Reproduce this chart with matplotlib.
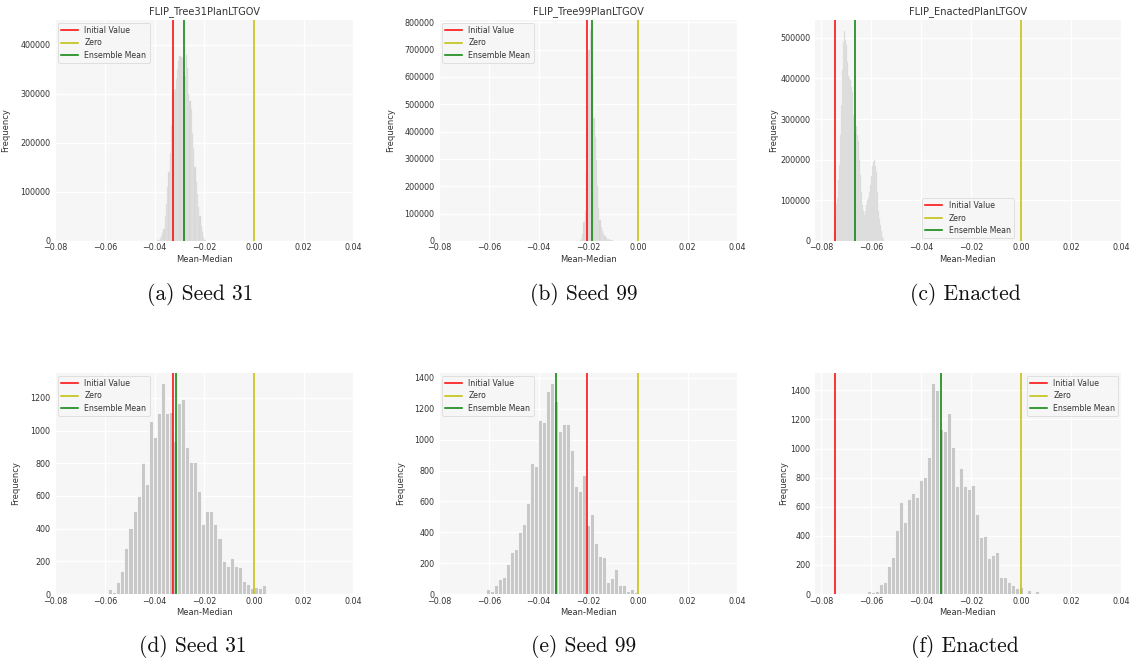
import numpy as np
import matplotlib
matplotlib.use("Agg")
import matplotlib.pyplot as plt

plt.rcParams['font.family'] = ['DejaVu Sans']

# ---- labels -------------------------------------------------------------
titles = ["FLIP_Tree31PlanLTGOV", "FLIP_Tree99PlanLTGOV", "FLIP_EnactedPlanLTGOV"]
captions = ["(a) Seed 31", "(b) Seed 99", "(c) Enacted",
            "(d) Seed 31", "(e) Seed 99", "(f) Enacted"]
xtick_values = [-0.08, -0.06, -0.04, -0.02, 0.00, 0.02, 0.04]
legend_labels = ["Initial Value", "Zero", "Ensemble Mean"]

# ---- histogram data (bin start, bin width, counts) ----------------------
# long chains (top row)
seed31_long_start, seed31_long_width = -0.0390, 0.0005
seed31_long_counts = [1500, 3000, 6000, 10000, 16000, 25000, 50000, 75000, 110000,
                      140000, 180000, 237000, 300000, 309000, 310000, 330000, 350000,
                      367000, 377000, 375000, 373000, 345000, 336000, 379000, 353000,
                      300000, 285000, 270000, 220000, 190000, 150000, 120000, 95000,
                      70000, 50000, 30000, 18000, 8000, 2000]

seed99_long_start, seed99_long_width = -0.0235, 0.0005
seed99_long_counts = [3000, 8000, 25000, 70000, 110000, 250000, 450000, 700000, 770000,
                      720000, 610000, 450000, 380000, 295000, 200000, 120000, 75000,
                      50000, 35000, 25000, 18000, 12000, 9000, 6000, 4000, 3000, 2000,
                      1000]

enacted_long_start, enacted_long_width = -0.0747, 0.0004
enacted_long_counts = [20000, 69000, 90000, 106000, 150000, 188000, 260000, 335000,
                       420000, 490000, 518000, 495000, 483000, 440000, 405000, 400000,
                       397000, 380000, 368000, 310000, 262000, 270000, 282000, 260000,
                       245000, 200000, 163000, 120000, 89000, 75000, 65000, 75000,
                       89000, 100000, 106000, 120000, 139000, 160000, 184000, 195000,
                       200000, 185000, 171000, 120000, 73000, 55000, 40000, 25000,
                       11000, 4000]

# short chains (bottom row)
seed31_short_start, seed31_short_width = -0.0652, 0.001629
seed31_short_counts = [0, 4, 0, 2, 31, 10, 72, 141, 284, 402, 508, 602, 800, 675, 1059,
                       963, 1106, 1293, 1106, 1112, 938, 1171, 1195, 898, 810, 810, 628,
                       430, 510, 510, 430, 340, 200, 170, 220, 170, 165, 80, 60, 35, 40,
                       35, 55, 3, 2, 0, 2, 0, 0, 1, 1, 1]

seed99_short_start, seed99_short_width = -0.0612, 0.00161
seed99_short_counts = [32, 20, 58, 95, 112, 194, 274, 291, 399, 451, 591, 846, 830, 1130,
                       1115, 1313, 1367, 1251, 1055, 1104, 1104, 932, 699, 668, 770, 446,
                       518, 328, 248, 237, 76, 106, 162, 58, 58, 20, 35, 13, 8, 5, 4, 3]

enacted_short_start, enacted_short_width = -0.0680, 0.0016
enacted_short_counts = [2, 2, 0, 1, 18, 14, 21, 66, 85, 190, 252, 442, 632, 493, 651, 694,
                        669, 781, 804, 944, 1452, 1402, 1136, 1120, 1246, 1012, 741, 866,
                        741, 720, 750, 550, 390, 400, 250, 270, 290, 120, 120, 80, 60, 40,
                        45, 10, 30, 10, 20]

# reference values for the vertical markers
initial_values = [-0.0328, -0.0205, -0.0744, -0.0328, -0.0205, -0.0744]
ensemble_means = [-0.0283, -0.0184, -0.0664, -0.0315, -0.0329, -0.0320]
zero_value = 0.0

y_limits = [451000, 808000, 544000, 1353, 1432, 1519]
y_steps = [100000, 100000, 100000, 200, 200, 200]
x_limits = [(-0.08, 0.04), (-0.08, 0.04), (-0.0825, 0.04),
            (-0.08, 0.04), (-0.08, 0.04), (-0.0825, 0.04)]

hists = [
    (seed31_long_start, seed31_long_width, seed31_long_counts),
    (seed99_long_start, seed99_long_width, seed99_long_counts),
    (enacted_long_start, enacted_long_width, enacted_long_counts),
    (seed31_short_start, seed31_short_width, seed31_short_counts),
    (seed99_short_start, seed99_short_width, seed99_short_counts),
    (enacted_short_start, enacted_short_width, enacted_short_counts),
]

# ---- layout (pixel boxes on a 1134 x 662 canvas) -------------------------
W, H = 1134, 662
axes_px = [  # left, top, right, bottom
    (55.3, 20, 353.3, 241), (439.3, 20, 737.3, 241), (815, 20, 1121, 241),
    (55.3, 373, 353.3, 594), (439.3, 373, 737.3, 594), (815, 373, 1121, 594),
]
ylabel_x_px = [10, 395, 778, 20, 405, 788]
caption_px = [(200, 295), (584, 295), (965, 295), (193, 647), (584, 647), (965, 647)]
legend_locs = ["upper left", "upper left", "lower center",
               "upper left", "upper left", "upper right"]

BG = "#f6f6f6"
TXT = "#333333"

fig = plt.figure(figsize=(W / 100, H / 100), dpi=100)
fig.patch.set_facecolor("white")

for i, (l, t, r, b) in enumerate(axes_px):
    ax = fig.add_axes([l / W, 1 - b / H, (r - l) / W, (b - t) / H])
    ax.set_facecolor(BG)
    for s in ax.spines.values():
        s.set_visible(False)
    ax.grid(True, color="white", linewidth=0.9)
    ax.set_axisbelow(True)

    start, width, counts = hists[i]
    edges = start + width * np.arange(len(counts))
    if i < 3:
        ax.bar(edges, counts, width=width, align="edge", color="#d4d4d4",
               edgecolor="#e6e6e6", linewidth=0.3, zorder=2)
    else:
        ax.bar(edges, counts, width=width, align="edge", color="#c8c8c8",
               edgecolor="white", linewidth=0.5, zorder=2)

    ax.axvline(initial_values[i], color="r", linewidth=1.1, label=legend_labels[0], zorder=3)
    ax.axvline(zero_value, color="y", linewidth=1.1, label=legend_labels[1], zorder=3)
    ax.axvline(ensemble_means[i], color="g", linewidth=1.1, label=legend_labels[2], zorder=3)

    ax.set_xlim(*x_limits[i])
    ax.set_ylim(0, y_limits[i])
    ax.set_xticks(xtick_values)
    ax.set_yticks(np.arange(0, y_limits[i], y_steps[i]))
    ax.tick_params(axis="both", length=0, labelsize=5.8, colors=TXT)
    ax.tick_params(axis="x", pad=1.8)
    ax.tick_params(axis="y", pad=3.5)

    ax.set_xlabel("Mean-Median", fontsize=6.0, color=TXT, labelpad=1.5)
    ax.set_ylabel("Frequency", fontsize=6.0, color=TXT)
    ax.yaxis.set_label_coords((ylabel_x_px[i] - l) / (r - l), 0.5)

    if i < 3:
        ax.set_title(titles[i], fontsize=7.1, color=TXT, pad=4)

    leg = ax.legend(loc=legend_locs[i], fontsize=5.6, frameon=True,
                    borderaxespad=0.35, handlelength=2.2, labelspacing=0.45)
    leg.get_frame().set_facecolor(BG)
    leg.get_frame().set_edgecolor("#d5d5d5")
    leg.get_frame().set_linewidth(0.6)
    for txt in leg.get_texts():
        txt.set_color(TXT)

for cap, (cx, cy) in zip(captions, caption_px):
    fig.text(cx / W, 1 - cy / H, cap, ha="center", va="center",
             fontsize=15.5, family="cmr10", color="#111111")

fig.savefig("out.png", dpi=100, facecolor="white")
